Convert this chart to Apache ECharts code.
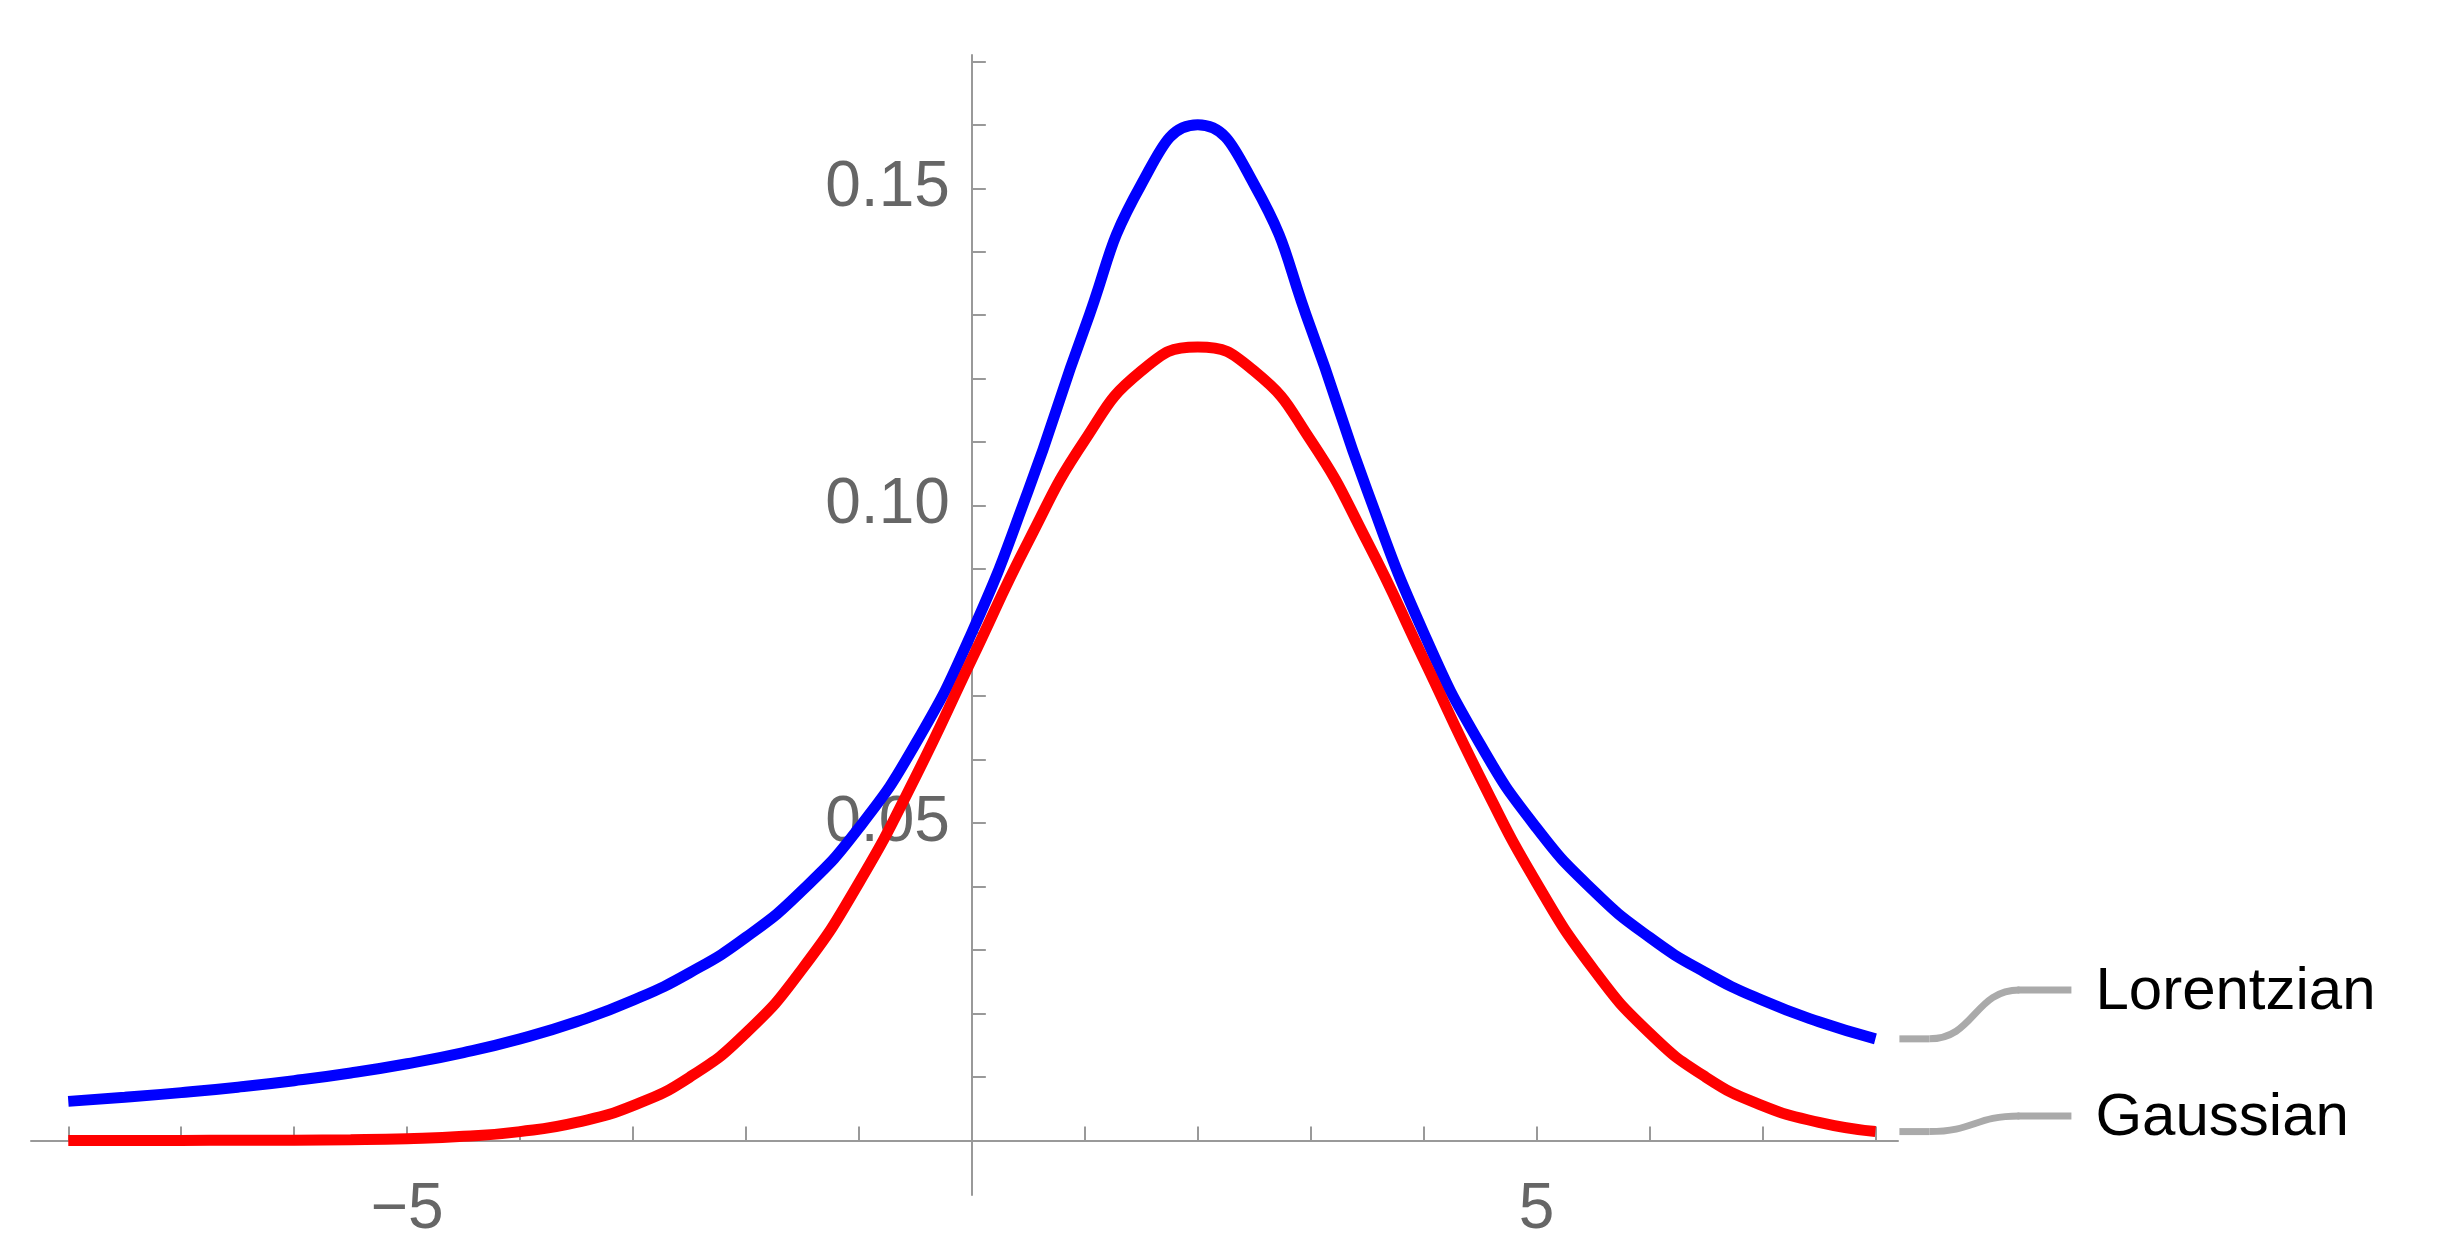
<!DOCTYPE html>
<html lang="en">
<head>
<meta charset="UTF-8">
<title>Lorentzian vs Gaussian</title>
<script src="https://cdn.jsdelivr.net/npm/echarts@6/dist/echarts.min.js"></script>
<style>html,body{margin:0;background:#fff}#main{width:2437px;height:1255px}</style>
</head>
<body>
<div id="main"></div>
<script>
var xs = [-8,-7.5,-7,-6.5,-6,-5.5,-5,-4.5,-4,-3.5,-3,-2.5,-2,-1.5,-1,-0.5,0,0.5,1,1.5,2,2.5,3,3.5,4,4.5,5,5.5,6,6.5,7,7.5,8];
var lorentzian = [0.00615,0.00679,0.00753,0.00839,0.00941,0.01062,0.01208,0.01384,0.016,0.01869,0.02207,0.0264,0.032,0.03941,0.04923,0.06244,0.08,0.1024,0.128,0.1506,0.16,0.1506,0.128,0.1024,0.08,0.06244,0.04923,0.03941,0.032,0.0264,0.02207,0.01869,0.016];
var gaussian = [0,0.000001,0.000005,0.000015,0.00004,0.0001,0.00027,0.00064,0.00139,0.00285,0.00549,0.00995,0.01692,0.02704,0.04058,0.05723,0.07582,0.09435,0.1103,0.1212,0.125,0.1212,0.1103,0.09435,0.07582,0.05723,0.04058,0.02704,0.01692,0.00995,0.00549,0.00285,0.00139];
var xTicks = [-8,-7,-6,-5,-4,-3,-2,-1,1,2,3,4,5,6,7,8];
var xLabels = [-5,5];
var yTicks = [0.01,0.02,0.03,0.04,0.05,0.06,0.07,0.08,0.09,0.1,0.11,0.12,0.13,0.14,0.15,0.16,0.17];
var yLabels = [0.05,0.1,0.15];
var names = ['Lorentzian','Gaussian'];

function pairs(ys){ return xs.map(function(x,i){ return [x, ys[i]]; }); }

var chart = echarts.init(document.getElementById('main'));
chart.setOption({
    animation: false,
    grid: {left: 31, right: 539, top: 55, bottom: 60},
    xAxis: {
        type: 'value', min: -8.33, max: 8.2,
        axisLine: {onZero: true, lineStyle: {color: '#999', width: 2}},
        axisTick: {inside: true, length: 14, customValues: xTicks, lineStyle: {color: '#999', width: 2}},
        axisLabel: {show: false},
        splitLine: {show: false}
    },
    yAxis: {
        type: 'value', min: -0.0086, max: 0.171,
        axisLine: {onZero: true, lineStyle: {color: '#999', width: 2}},
        axisTick: {inside: true, length: 14, customValues: yTicks, lineStyle: {color: '#999', width: 2}},
        axisLabel: {show: false},
        splitLine: {show: false}
    },
    series: [
        {name: names[0], type: 'line', smooth: 0.5, showSymbol: false, data: pairs(lorentzian),
            lineStyle: {color: '#0000ff', width: 11}},
        {name: names[1], type: 'line', smooth: 0.5, showSymbol: false, data: pairs(gaussian),
            lineStyle: {color: '#ff0000', width: 11}}
    ]
});

var els = [];
// tick labels placed through the axis scales
var origin = chart.convertToPixel({gridIndex: 0}, [0, 0]);
yLabels.forEach(function(v){
    var p = chart.convertToPixel({gridIndex: 0}, [0, v]);
    els.push({type: 'text', x: p[0] - 22, y: p[1], style: {text: v.toFixed(2), fontSize: 64, fill: '#666',
        fontFamily: 'Liberation Sans', align: 'right', verticalAlign: 'middle'}});
});
xLabels.forEach(function(v){
    var p = chart.convertToPixel({gridIndex: 0}, [v, 0]);
    els.push({type: 'text', x: p[0], y: p[1] + 38, style: {text: String(v).replace('-', '\u2212'), fontSize: 64, fill: '#666',
        fontFamily: 'Liberation Sans', align: 'center', verticalAlign: 'top'}});
});

// legend connectors from the line ends
var ends = [chart.convertToPixel({gridIndex: 0}, [8, lorentzian[lorentzian.length-1]]),
            chart.convertToPixel({gridIndex: 0}, [8, gaussian[gaussian.length-1]])];
var labelY = [990, 1116];
ends.forEach(function(p, i){
    var x0 = p[0] + 24, y0 = p[1], x1 = x0 + 172, y1 = labelY[i];
    els.push({type: 'line', shape: {x1: x0, y1: y0, x2: x0 + 30, y2: y0}, style: {stroke: '#aaa', lineWidth: 7}});
    els.push({type: 'bezierCurve', shape: {x1: x0 + 30, y1: y0, x2: x0 + 120, y2: y1, cpx1: x0 + 75, cpy1: y0, cpx2: x0 + 75, cpy2: y1}, style: {stroke: '#aaa', lineWidth: 7, fill: null}});
    els.push({type: 'line', shape: {x1: x0 + 118, y1: y1, x2: x1, y2: y1}, style: {stroke: '#aaa', lineWidth: 7}});
    els.push({type: 'text', x: x1 + 24, y: y1 + 2, style: {text: names[i], fontSize: 60, fill: '#000', fontFamily: 'Liberation Sans', verticalAlign: 'middle'}});
});
chart.setOption({graphic: els});
</script>
</body>
</html>
